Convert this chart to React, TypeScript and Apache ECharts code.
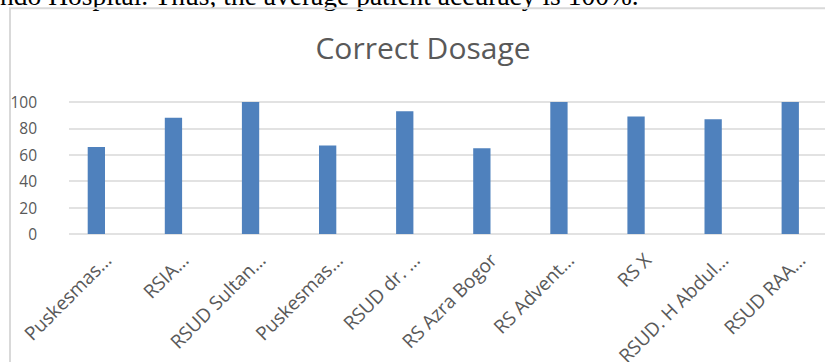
import React, { useEffect, useRef } from "react";
import * as echarts from "echarts";

// Hospitals (labels as shown on the axis, long names shortened)
const categories = [
  "Puskesmas…",
  "RSIA…",
  "RSUD Sultan…",
  "Puskesmas…",
  "RSUD dr. …",
  "RS Azra Bogor",
  "RS Advent…",
  "RS X",
  "RSUD. H Abdul…",
  "RSUD RAA…",
];

// Correct dosage (%) per hospital
const correctDosage = [66, 88, 100, 67, 93, 65, 100, 89, 87, 100];

const yMin = 0;
const yMax = 100;
const yStep = 20;

const chartTitle = "Correct Dosage";
const leadText = "ndo Hospital. Thus, the average patient accuracy is 100%.";

const GRAY = "#595959";
const GRID_GRAY = "#d9d9d9";
const BAR_BLUE = "#4f81bd";
const SANS = "'Open Sans', 'Noto Sans', sans-serif";

export default function App() {
  const ref = useRef<HTMLDivElement>(null);

  useEffect(() => {
    if (!ref.current) return;
    const chart = echarts.init(ref.current, null, { renderer: "svg" });

    const plotTop = 102;
    const plotBottom = 362 - 234;
    const catWidth = 77.1;
    const barsLeft = 57.8;

    chart.setOption({
      animation: false,
      backgroundColor: "#ffffff",
      graphic: [
        {
          type: "text",
          x: 0,
          y: -4.3,
          silent: true,
          style: {
            text: leadText,
            font: "27.5px 'Liberation Serif', 'DejaVu Serif', serif",
            fill: "#000000",
            align: "left",
            verticalAlign: "middle",
          },
        },
        {
          type: "rect",
          silent: true,
          shape: { x: 10, y: 8.3, width: 900, height: 400 },
          style: { fill: "none", stroke: GRID_GRAY, lineWidth: 2 },
        },
        {
          type: "text",
          x: 423,
          y: 47.4,
          silent: true,
          style: {
            text: chartTitle,
            font: `30px ${SANS}`,
            fill: GRAY,
            align: "center",
            verticalAlign: "middle",
          },
        },
      ],
      grid: [
        // gridlines and value labels
        { left: 69, top: plotTop, bottom: plotBottom, width: 760, outerBoundsMode: "none", containLabel: false },
        // bars
        { left: barsLeft, top: plotTop, bottom: plotBottom, width: catWidth * categories.length, outerBoundsMode: "none", containLabel: false },
        // category labels
        { left: barsLeft + 11.5, top: plotTop, bottom: plotBottom, width: catWidth * categories.length, outerBoundsMode: "none", containLabel: false },
      ],
      xAxis: [
        { gridIndex: 0, type: "category", data: categories, show: false },
        { gridIndex: 1, type: "category", data: categories, show: false },
        {
          gridIndex: 2,
          type: "category",
          data: categories,
          axisLine: { show: false },
          axisTick: { show: false },
          splitLine: { show: false },
          axisLabel: {
            interval: 0,
            rotate: 45,
            margin: 22.5,
            color: GRAY,
            fontSize: 19,
            fontFamily: SANS,
          },
        },
      ],
      yAxis: [
        {
          gridIndex: 0,
          type: "value",
          min: yMin,
          max: yMax,
          interval: yStep,
          axisLine: { show: false },
          axisTick: { show: false },
          axisLabel: {
            margin: 32,
            color: GRAY,
            fontSize: 15.5,
            fontFamily: SANS,
          },
          splitLine: { show: true, lineStyle: { color: GRID_GRAY, width: 1.5 } },
        },
        { gridIndex: 1, type: "value", min: yMin, max: yMax, show: false, splitLine: { show: false } },
        { gridIndex: 2, type: "value", min: yMin, max: yMax, show: false, splitLine: { show: false } },
      ],
      series: [
        {
          name: chartTitle,
          type: "bar",
          xAxisIndex: 1,
          yAxisIndex: 1,
          data: correctDosage,
          barWidth: 17.3,
          itemStyle: { color: BAR_BLUE },
        },
      ],
    });

    return () => chart.dispose();
  }, []);

  return (
    <div
      ref={ref}
      style={{ position: "absolute", left: 0, top: 0, width: 825, height: 362 }}
    />
  );
}
